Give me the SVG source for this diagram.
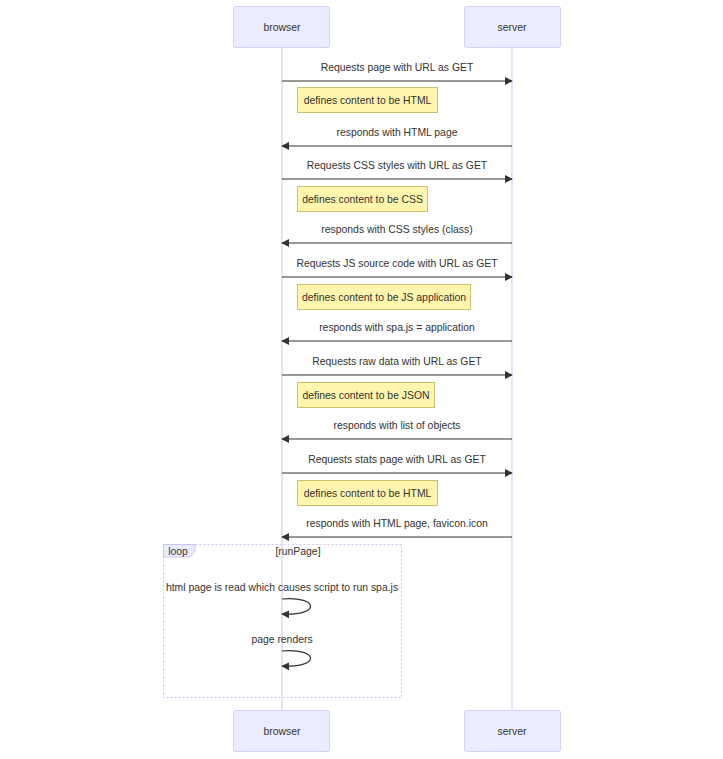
<svg xmlns="http://www.w3.org/2000/svg" width="723" height="759" viewBox="0 0 723 759">
  <style>
    text { font-family: "Liberation Sans", Arial, sans-serif; fill: #333; }
    .actor rect { fill: #ececff; stroke: #d6d0f5; stroke-width: 1; }
    .actor text { font-size: 10.4px; text-anchor: middle; dominant-baseline: central; }
    .life { stroke: #d6d0f5; stroke-width: 1.2; }
    .msg { stroke: #333; stroke-width: 1.2; fill: none; marker-end: url(#arrow); }
    .mtxt { font-size: 10.4px; text-anchor: middle; }
    .note rect { fill: #fff5ad; stroke: #c9c26a; stroke-width: 1; }
    .note text { font-size: 10.4px; text-anchor: middle; dominant-baseline: central; }
    .loop { fill: none; stroke: #c9c4f0; stroke-width: 1; stroke-dasharray: 2 2; }
  </style>
  <defs>
    <marker id="arrow" viewBox="0 0 10 10" refX="9" refY="5" markerWidth="8" markerHeight="8" markerUnits="userSpaceOnUse" orient="auto">
      <path d="M0,0 L10,5 L0,10 z" fill="#333"/>
    </marker>
  </defs>
  <rect width="723" height="759" fill="#fff"/>

  <!-- lifelines -->
  <line class="life" x1="282" y1="47" x2="282" y2="710"/>
  <line class="life" x1="512" y1="47" x2="512" y2="710"/>

  <g id="browser-top" class="actor"><rect x="233.5" y="6.5" width="96" height="41" rx="2"/><text x="282" y="27.5">browser</text></g>
  <g id="server-top" class="actor"><rect x="464.5" y="6.5" width="96" height="41" rx="2"/><text x="512" y="27.5">server</text></g>
  <g id="browser-bottom" class="actor"><rect x="233.5" y="710.5" width="96" height="41" rx="2"/><text x="282" y="731.5">browser</text></g>
  <g id="server-bottom" class="actor"><rect x="464.5" y="710.5" width="96" height="41" rx="2"/><text x="512" y="731.5">server</text></g>

  <!-- loop frame -->
  <g id="loop">
    <rect class="loop" x="163.5" y="544.5" width="238" height="153"/>
    <path d="M163.5,544.5 H195 V551 L190,557 H163.5 Z" fill="#ececff" stroke="#c9c4f0" stroke-width="1"/>
    <text x="178" y="555" font-size="10.4" text-anchor="middle">loop</text>
    <text x="298" y="555" font-size="10.4" text-anchor="middle">[runPage]</text>
  </g>

  <!-- notes -->
  <g id="note1" class="note"><rect x="297.5" y="87.5" width="140" height="25"/><text x="367.5" y="100.5">defines content to be HTML</text></g>
  <g id="note2" class="note"><rect x="297.5" y="186.5" width="130" height="25"/><text x="362.5" y="199.5">defines content to be CSS</text></g>
  <g id="note3" class="note"><rect x="297.5" y="284.5" width="173" height="25"/><text x="384" y="297.5">defines content to be JS application</text></g>
  <g id="note4" class="note"><rect x="297.5" y="382.5" width="137" height="25"/><text x="366" y="395.5">defines content to be JSON</text></g>
  <g id="note5" class="note"><rect x="297.5" y="480.5" width="140" height="25"/><text x="367.5" y="493.5">defines content to be HTML</text></g>

  <!-- connectors -->
  <g id="connectors">
    <line class="msg" x1="282" y1="81" x2="512" y2="81"/>
    <line class="msg" x1="512" y1="146" x2="282" y2="146"/>
    <line class="msg" x1="282" y1="179" x2="512" y2="179"/>
    <line class="msg" x1="512" y1="243" x2="282" y2="243"/>
    <line class="msg" x1="282" y1="277" x2="512" y2="277"/>
    <line class="msg" x1="512" y1="341" x2="282" y2="341"/>
    <line class="msg" x1="282" y1="375" x2="512" y2="375"/>
    <line class="msg" x1="512" y1="439" x2="282" y2="439"/>
    <line class="msg" x1="282" y1="473" x2="512" y2="473"/>
    <line class="msg" x1="512" y1="537" x2="282" y2="537"/>
    <path class="msg" d="M282,599 C320,596 320,616 282,614"/>
    <path class="msg" d="M282,651 C320,648 320,668 282,666"/>
  </g>

  <!-- message labels -->
  <g id="labels">
    <text class="mtxt" x="397" y="71">Requests page with URL as GET</text>
    <text class="mtxt" x="397" y="136">responds with HTML page</text>
    <text class="mtxt" x="397" y="169">Requests CSS styles with URL as GET</text>
    <text class="mtxt" x="397" y="233">responds with CSS styles (class)</text>
    <text class="mtxt" x="397" y="267">Requests JS source code with URL as GET</text>
    <text class="mtxt" x="397" y="331">responds with spa.js = application</text>
    <text class="mtxt" x="397" y="365">Requests raw data with URL as GET</text>
    <text class="mtxt" x="397" y="429">responds with list of objects</text>
    <text class="mtxt" x="397" y="463">Requests stats page with URL as GET</text>
    <text class="mtxt" x="397" y="527">responds with HTML page, favicon.icon</text>
    <text class="mtxt" x="282" y="591">html page is read which causes script to run spa.js</text>
    <text class="mtxt" x="282" y="643">page renders</text>
  </g>
</svg>
